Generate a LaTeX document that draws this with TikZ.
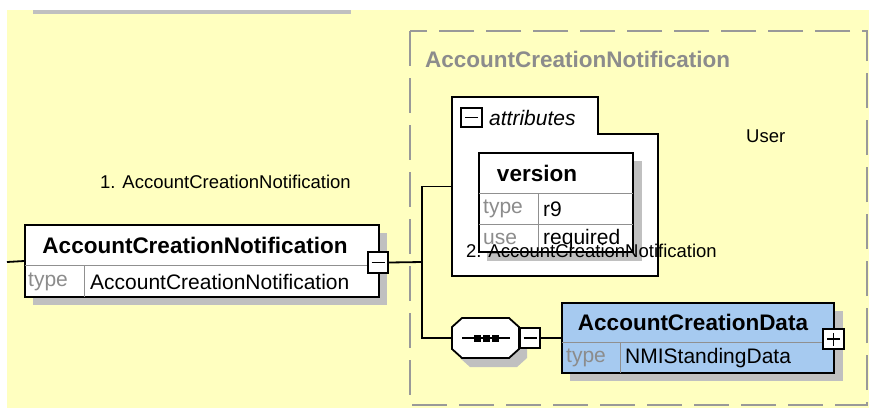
\documentclass[tikz,border=0pt]{standalone}
\usepackage{fontspec}
\setmainfont{Liberation Sans}
\definecolor{bgyellow}{HTML}{FFFFC0}
\definecolor{shadowgray}{HTML}{C0C0C0}
\definecolor{framegray}{HTML}{999999}
\definecolor{boxblue}{HTML}{A6CAF0}
\definecolor{linegray}{HTML}{909090}
\definecolor{txtgray}{HTML}{8C8C8C}
\begin{document}
\begin{tikzpicture}[x=1pt,y=-1pt,
  box/.style={draw=black, line width=1.8pt, fill=white, inner sep=0pt, rectangle},
  conn/.style={draw=black, line width=1.8pt},
  sepline/.style={draw=linegray, line width=1pt},
  shad/.style={fill=shadowgray, draw=none},
  btxt/.style={font=\fontsize{22.5}{24}\selectfont\bfseries, inner sep=0pt},
  rtxt/.style={font=\fontsize{21}{24}\selectfont, inner sep=0pt, anchor=west},
  gtxt/.style={rtxt, text=txtgray},
  lbl/.style={font=\fontsize{18.5}{22}\selectfont, inner sep=0pt, anchor=west},
  signbox/.style={box, line width=1.5pt},
  sign/.style={draw=black, line width=1.6pt}
]
\useasboundingbox (0,0) rectangle (869,408);
% background
\fill[bgyellow] (7,10) rectangle (869,408);
\fill[shadowgray] (33,10) rectangle (351,14);
% dashed frame
\draw[framegray, line width=2pt, dash pattern=on 35pt off 12pt] (410,31) rectangle (867,405);
\node[btxt, text=txtgray, anchor=west] (frametitle) at (425,59) {AccountCreationNotification};

% ---------- main element ----------
\fill[shad] (33,233) rectangle (387,305);
\node[box, minimum width=354pt, minimum height=72pt] (main) at (202,261) {};
\draw[sepline] (25,265) -- (379,265);
\draw[sepline] (84,265) -- (84,297);
\node[btxt] (maintitle) at (195,245) {AccountCreationNotification};
\node[gtxt] (maintypek) at (28,282) {type};
\node[rtxt] (maintypev) at (90,282) {AccountCreationNotification};
\node[signbox, minimum width=20pt, minimum height=21pt] (mainminus) at (378,262.5) {};
\draw[sign] ([xshift=-6.5pt]mainminus.center) -- ([xshift=6.5pt]mainminus.center);
\coordinate (stub) at (7,262);
\coordinate (jn) at (422,262);

% ---------- attributes ----------
\node[inner sep=0pt, minimum width=206pt, minimum height=179pt] (attr) at (555,186.5) {};
\draw[line width=1.8pt, fill=white] (452,97) -- (598,97) -- (598,134) -- (658,134) -- (658,276) -- (452,276) -- cycle;
\node[signbox, minimum width=21pt, minimum height=19pt] (attrminus) at (471.5,117.5) {};
\draw[sign] ([xshift=-6.5pt]attrminus.center) -- ([xshift=6.5pt]attrminus.center);
\node[rtxt, font=\fontsize{21}{24}\selectfont\itshape] (attrtxt) at (489,118) {attributes};
% version
\fill[shad] (487,161) rectangle (642,261);
\node[box, minimum width=154pt, minimum height=99pt] (version) at (556,202.5) {};
\draw[sepline] (479,193) -- (633,193);
\draw[sepline] (479,224) -- (633,224);
\draw[sepline] (538,193) -- (538,252);
\node[btxt] (versiontitle) at (537,173) {version};
\node[gtxt] (vtypek) at (483,209) {type};
\node[rtxt] (vtypev) at (543,209) {r9};
\node[gtxt] (vusek) at (483,239) {use};
\node[rtxt] (vusev) at (543,239) {required};

% ---------- sequence ----------
\node[inner sep=0pt, minimum width=67pt, minimum height=40pt] (seq) at (485.5,338) {};
\fill[shad] (470,327) -- (517,327) -- (527,336) -- (527,358) -- (517,367) -- (470,367) -- (460,358) -- (460,336) -- cycle;
\draw[line width=1.8pt, fill=white] (462,318) -- (509,318) -- (519,327) -- (519,349) -- (509,358) -- (462,358) -- (452,349) -- (452,327) -- cycle;
\draw[line width=1.5pt] (462,338) -- (510,338);
\foreach \cx in {477,486,495} \fill (\cx-3.5,334.5) rectangle (\cx+3.5,341.5);
\node[signbox, minimum width=20pt, minimum height=20pt] (seqminus) at (530,338) {};
\draw[sign] ([xshift=-6.5pt]seqminus.center) -- ([xshift=6.5pt]seqminus.center);

% ---------- AccountCreationData ----------
\fill[shad] (570,311) rectangle (843,381);
\node[box, fill=boxblue, minimum width=272pt, minimum height=70pt] (acd) at (698,338) {};
\draw[sepline] (562,342) -- (834,342);
\draw[sepline] (620,342) -- (620,373);
\node[btxt] (acdtitle) at (693,322) {AccountCreationData};
\node[gtxt] (acdtypek) at (566,358) {type};
\node[rtxt] (acdtypev) at (625,358) {NMIStandingData};
\node[signbox, minimum width=21pt, minimum height=20pt] (acdplus) at (833.5,339) {};
\draw[sign] ([xshift=-6.5pt]acdplus.center) -- ([xshift=6.5pt]acdplus.center);
\draw[sign] ([yshift=-6.5pt]acdplus.center) -- ([yshift=6.5pt]acdplus.center);

% ---------- connectors ----------
\draw[conn] (stub) -- (main.west);
\draw[conn] (mainminus.east) -- (jn);
\draw[conn] (attr.west) -| (jn) |- (seq.west);
\draw[conn] (seqminus.east) -- (acd.west);

% ---------- labels ----------
\node[lbl] (lbl1) at (100,182) {1. AccountCreationNotification};
\node[lbl] (lbl2) at (466,251) {2. AccountCreationNotification};
\node[lbl] (lbluser) at (746,136) {User};
\end{tikzpicture}
\end{document}
